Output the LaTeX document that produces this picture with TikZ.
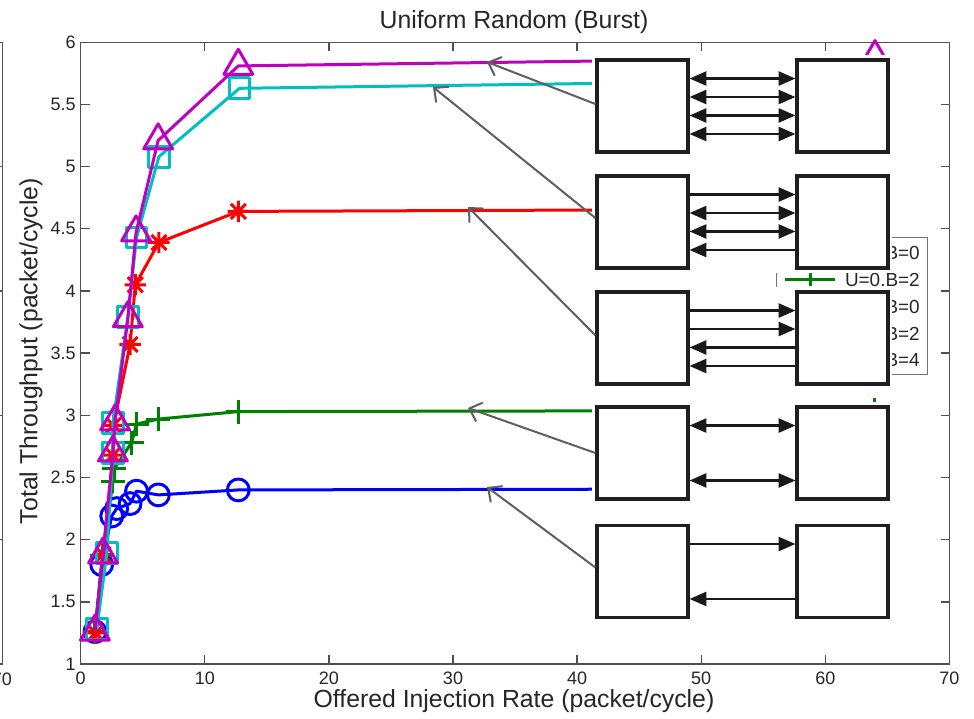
\documentclass[tikz,border=0pt]{standalone}
\usepackage{fontspec}
\setmainfont{Liberation Sans}
\usetikzlibrary{arrows.meta,plotmarks}
\definecolor{cblue}{RGB}{0,0,255}
\definecolor{cgreen}{RGB}{0,128,0}
\definecolor{cred}{RGB}{255,0,0}
\definecolor{ccyan}{RGB}{0,191,191}
\definecolor{cmag}{RGB}{191,0,191}
\definecolor{axisc}{RGB}{80,80,80}
\definecolor{txtc}{RGB}{38,38,38}
\definecolor{ptrc}{RGB}{95,95,95}
\pgfdeclareplotmark{mstar}{%
  \pgfpathmoveto{\pgfqpoint{0pt}{\pgfplotmarksize}}%
  \pgfpathlineto{\pgfqpoint{0pt}{-\pgfplotmarksize}}%
  \pgfpathmoveto{\pgfqpoint{\pgfplotmarksize}{0pt}}%
  \pgfpathlineto{\pgfqpoint{-\pgfplotmarksize}{0pt}}%
  \pgfpathmoveto{\pgfqpoint{.7071\pgfplotmarksize}{.7071\pgfplotmarksize}}%
  \pgfpathlineto{\pgfqpoint{-.7071\pgfplotmarksize}{-.7071\pgfplotmarksize}}%
  \pgfpathmoveto{\pgfqpoint{-.7071\pgfplotmarksize}{.7071\pgfplotmarksize}}%
  \pgfpathlineto{\pgfqpoint{.7071\pgfplotmarksize}{-.7071\pgfplotmarksize}}%
  \pgfusepathqstroke}
\begin{document}
\begin{tikzpicture}[x=0.75pt,y=-0.75pt,
  frame/.style={axisc,line width=1pt},
  ticklab/.style={text=txtc,inner sep=0pt,font=\fontsize{13.5pt}{16pt}\selectfont},
  biglab/.style={text=txtc,inner sep=0pt,font=\fontsize{18.6pt}{22pt}\selectfont},
  legt/.style={text=txtc,inner sep=0pt,anchor=east,font=\fontsize{14.2pt}{17pt}\selectfont},
  series/.style={line width=2.25pt,line join=round,mark options={solid}},
  sblue/.style={series,cblue,mark=o,mark size=8.2pt},
  sgreen/.style={series,cgreen,mark=+,mark size=9pt},
  sred/.style={series,cred,mark=mstar,mark size=8pt},
  scyan/.style={series,ccyan,mark=square,mark size=7.8pt},
  smag/.style={series,cmag,mark=triangle,mark size=12.5pt},
  nbox/.style={draw=black!88,line width=2.4pt,fill=white,minimum width=68.25pt,minimum height=69pt,inner sep=0pt},
  link/.style={black!90,line width=1.6pt,arrows={-},>={Triangle[length=12.5pt,width=10.5pt]}},
  pointer/.style={ptrc,line width=1.5pt,-{Straight Barb[length=8pt,width=15pt,line width=1.5pt]}}]
\useasboundingbox (0,0) rectangle (974,718);
\fill[white] (0,0) rectangle (974,718);

% partial axis of the neighbouring plot
\draw[frame] (2.5,42.3) -- (2.5,664);
\foreach \yy in {42.3,166.6,291,415.3,539.7,664} \draw[frame] (-6,\yy) -- (2.5,\yy);
\node[ticklab] (l70) at (2,679) {70};

% main axes
\draw[frame] (80.7,42.3) rectangle (949.4,664);
\foreach \u [count=\k, evaluate=\u as \px using 80.7+12.41*\u] in {0,10,20,30,40,50,60,70} {
  \draw[frame] (\px,664) -- (\px,655);
  \draw[frame] (\px,42.3) -- (\px,51.3);
  \node[ticklab] (xt\k) at (\px,678.5) {\u};
}
\foreach \v [count=\k, evaluate=\v as \py using 42.3+124.34*(6-\v)] in {1,1.5,2,2.5,3,3.5,4,4.5,5,5.5,6} {
  \draw[frame] (80.7,\py) -- (89.5,\py);
  \draw[frame] (949.4,\py) -- (940.6,\py);
  \node[ticklab,anchor=east] (yt\k) at (76,\py) {\v};
}
\node[biglab] (title) at (514,22) {Uniform Random (Burst)};
\node[biglab] (xlab) at (514,701.5) {Offered Injection Rate (packet/cycle)};
\node[biglab,rotate=90] (ylab) at (31,351) {Total Throughput (packet/cycle)};

% legend (mostly hidden)
\draw[axisc!80,line width=0.75pt,fill=white] (776,237) rectangle (927,374);
\draw[cgreen,line width=2.25pt] (785,279) -- (835,279);
\path[cgreen,line width=2.25pt,mark=+,mark size=5pt] plot coordinates {(810,279)};
\node[legt] (lg1) at (920,253) {B=0};
\node[legt] (lg2) at (920,280) {U=0.B=2};
\node[legt] (lg3) at (920,307) {B=0};
\node[legt] (lg4) at (920,334) {B=2};
\node[legt] (lg5) at (920,360) {B=4};

% data
\begin{scope}[shift={(60.525pt,-591.255pt)},x=9.3075pt,y=93.255pt]
\draw[sblue] plot coordinates {(1.15,1.26) (1.69,1.80) (2.5,2.19) (2.9,2.25) (3.98,2.29) (4.5,2.39) (6.26,2.36) (12.7,2.40) (64,2.41)};
\draw[sgreen] plot coordinates {(1.15,1.26) (1.75,1.87) (2.6,2.47) (2.7,2.57) (4.1,2.78) (4.5,2.93) (6.26,2.97) (12.7,3.03) (64,3.04)};
\draw[sred] plot coordinates {(1.2,1.25) (1.8,1.88) (2.6,2.68) (2.65,2.92) (3.98,3.57) (4.4,4.05) (6.3,4.39) (12.7,4.64) (64,4.66)};
\draw[scyan] plot coordinates {(1.3,1.28) (2.1,1.89) (2.6,2.70) (2.6,2.94) (3.8,3.79) (4.5,4.43) (6.3,5.08) (12.8,5.63) (64,5.70)};
\draw[smag] plot coordinates {(1.15,1.26) (1.8,1.88) (2.6,2.70) (2.77,2.95) (3.8,3.78) (4.46,4.47) (6.24,5.21) (12.7,5.81) (64,5.88)};
\end{scope}

% white panels of the inset diagram
\fill[white] (592,55) rectangle (892,157);
\fill[white] (592,171) rectangle (892,273);
\fill[white] (592,287) rectangle (892,389);
\fill[white] (592,402) rectangle (892,504);
\fill[white] (592,520) rectangle (892,623);

% boxes
\node[nbox] (L1) at (642.5,106) {};
\node[nbox] (R1) at (842.5,106) {};
\node[nbox] (L2) at (642.5,222) {};
\node[nbox] (R2) at (842.5,222) {};
\node[nbox] (L3) at (642.5,338) {};
\node[nbox] (R3) at (842.5,338) {};
\node[nbox] (L4) at (642.5,453) {};
\node[nbox] (R4) at (842.5,453) {};
\node[nbox] (L5) at (642.5,571.5) {};
\node[nbox] (R5) at (842.5,571.5) {};

% links row 1
\draw[link,<->] ([yshift=20.6pt]L1.east) -- ([yshift=20.6pt]R1.west);
\draw[link,<->] ([yshift=6.75pt]L1.east) -- ([yshift=6.75pt]R1.west);
\draw[link,<->] ([yshift=-7.1pt]L1.east) -- ([yshift=-7.1pt]R1.west);
\draw[link,<->] ([yshift=-21pt]L1.east) -- ([yshift=-21pt]R1.west);
% row 2
\draw[link,->] ([yshift=20.6pt]L2.east) -- ([yshift=20.6pt]R2.west);
\draw[link,<->] ([yshift=6.75pt]L2.east) -- ([yshift=6.75pt]R2.west);
\draw[link,<->] ([yshift=-7.1pt]L2.east) -- ([yshift=-7.1pt]R2.west);
\draw[link,<-] ([yshift=-21pt]L2.east) -- ([yshift=-21pt]R2.west);
% row 3
\draw[link,->] ([yshift=20.6pt]L3.east) -- ([yshift=20.6pt]R3.west);
\draw[link,->] ([yshift=6.75pt]L3.east) -- ([yshift=6.75pt]R3.west);
\draw[link,<-] ([yshift=-7.1pt]L3.east) -- ([yshift=-7.1pt]R3.west);
\draw[link,<-] ([yshift=-21pt]L3.east) -- ([yshift=-21pt]R3.west);
% row 4
\draw[link,<->] ([yshift=20.6pt]L4.east) -- ([yshift=20.6pt]R4.west);
\draw[link,<->] ([yshift=-20.6pt]L4.east) -- ([yshift=-20.6pt]R4.west);
% row 5
\draw[link,->] ([yshift=20.6pt]L5.east) -- ([yshift=20.6pt]R5.west);
\draw[link,<-] ([yshift=-20.6pt]L5.east) -- ([yshift=-20.6pt]R5.west);

% pointers to curves
\coordinate (t1) at (487,62);
\coordinate (t2) at (433,87);
\coordinate (t3) at (468,207);
\coordinate (t4) at (468,408);
\coordinate (t5) at (487,487);
\draw[pointer] ([yshift=1.5pt]L1.west) -- (t1);
\draw[pointer] ([yshift=3pt]L2.west) -- (t2);
\draw[pointer] ([yshift=2pt]L3.west) -- (t3);
\draw[pointer] (L4.west) -- (t4);
\draw[pointer] ([yshift=3pt]L5.west) -- (t5);
\end{tikzpicture}
\end{document}
